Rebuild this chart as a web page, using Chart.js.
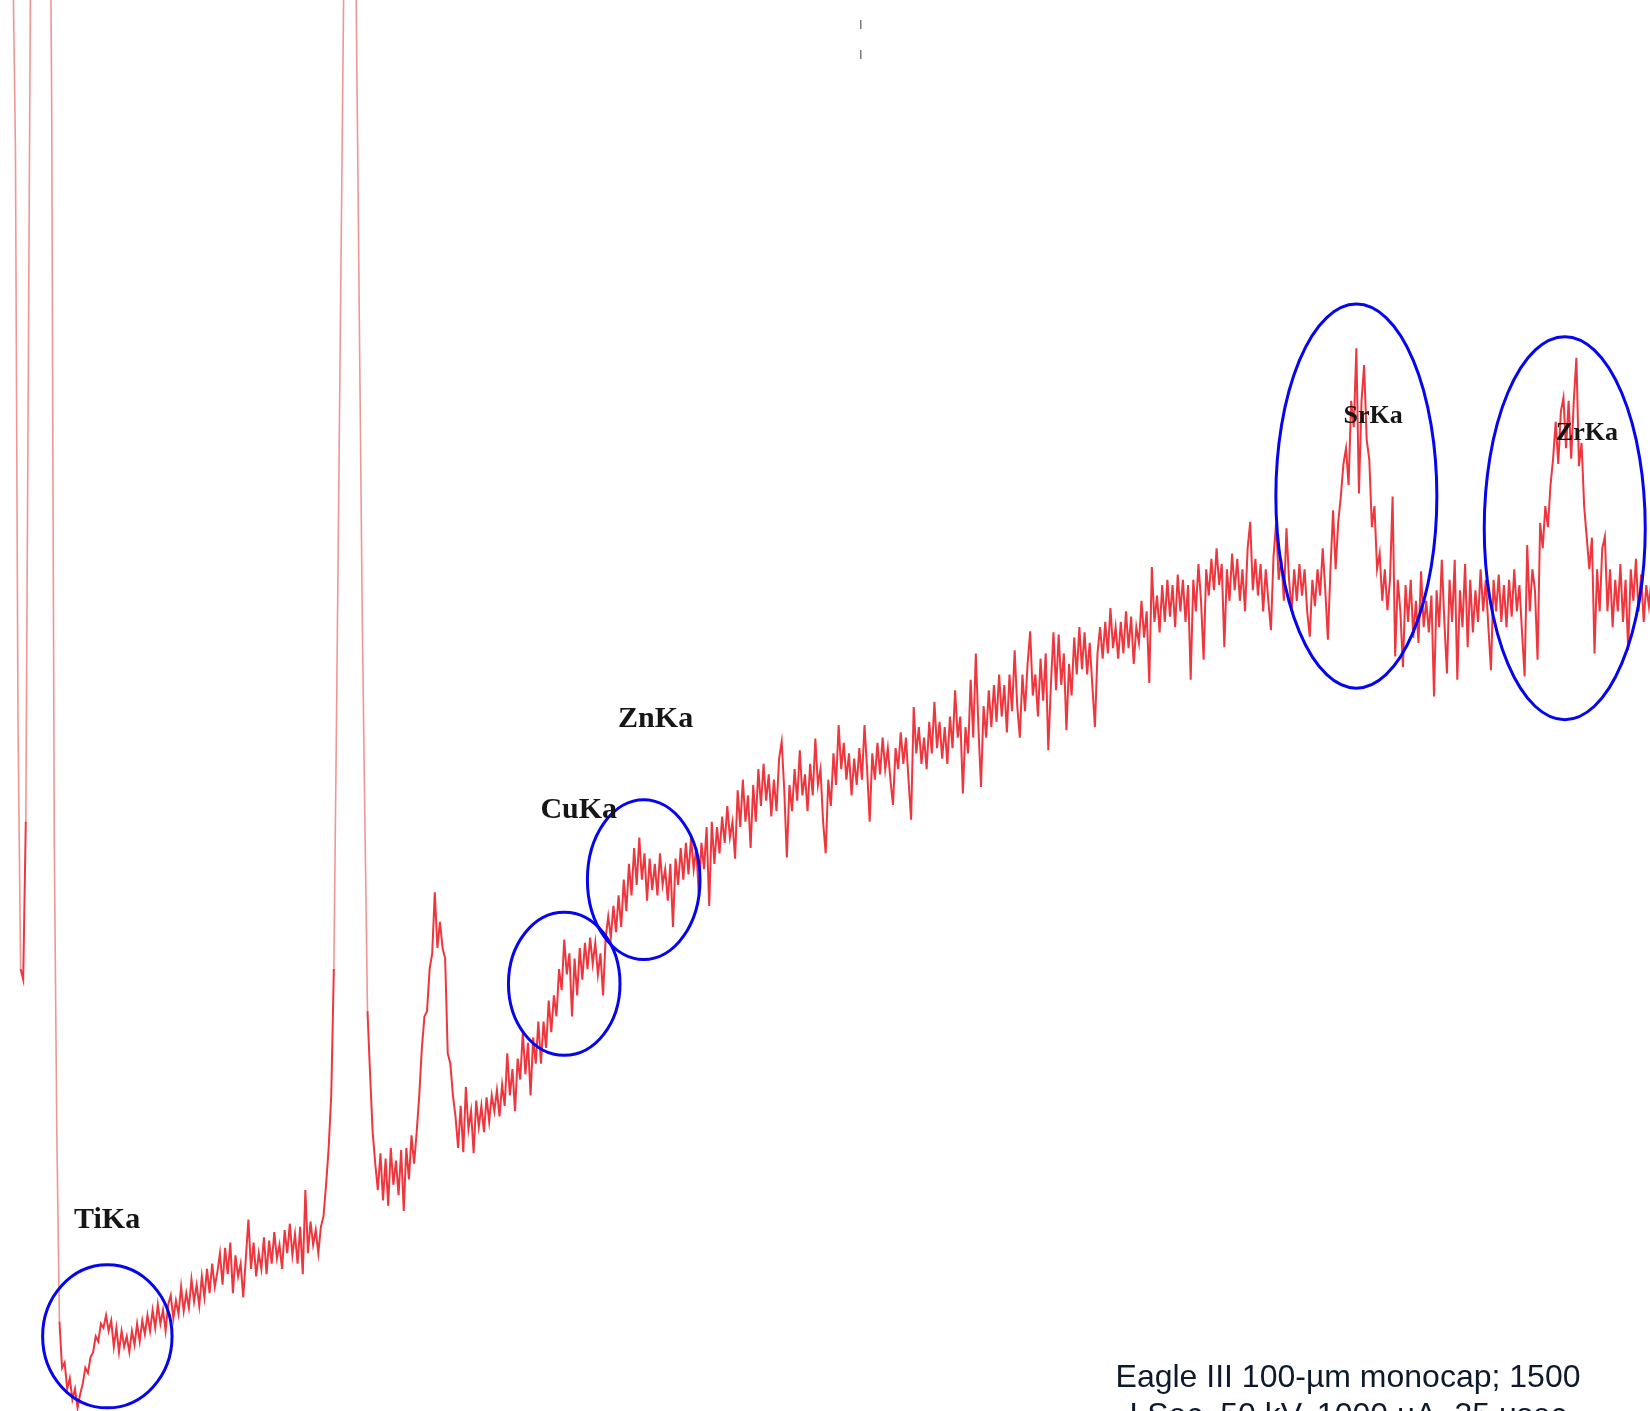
<!DOCTYPE html>
<html>
<head>
<meta charset="utf-8">
<title>XRF spectrum</title>
<script src="https://cdn.jsdelivr.net/npm/chart.js@4.4.1/dist/chart.umd.min.js"></script>
<style>
  html, body { margin: 0; padding: 0; background: #ffffff; }
  #wrap { position: relative; width: 1650px; height: 1411px; overflow: hidden; }
</style>
</head>
<body>
<div id="wrap"><canvas id="spectrum"></canvas></div>
<script>
// Detector calibration: energy of the first channel and channel width (keV)
const energyStart = 3.68;
const channelWidth = 0.02;

// Counts per channel
const counts = [
  1700,1750,1700,1650,1550,1380,1200,650,420,410,560,1000,1450,1800,2000,2100,2100,2000,1800,1600,1241,541,261,
  85,41,46,21,31,11,21,3,16,26,41,36,51,56,71,66,83,79,91,76,86,61,79,56,76,61,71,56,76,63,83,66,86,73,91,76,96,79,101,83,96,76,101,
  110,88,105,92,118,95,112,98,125,104,120,100,128,108,135,112,140,118,132,150,120,155,130,160,112,148,128,140,108,145,
  182,135,160,128,150,135,165,130,162,140,170,145,158,135,172,150,178,148,168,140,175,130,210,150,180,158,172,150,175,
  185,215,250,300,420,650,900,1150,1400,1800,2000,1800,1500,1250,1000,750,560,380,320,265,235,
  210,245,200,240,195,250,215,238,205,248,190,250,220,262,235,265,300,345,375,380,420,435,493,440,465,440,430,340,330,300,280,
  250,290,246,308,268,285,245,295,270,290,265,298,275,300,285,305,280,310,290,340,300,325,285,335,315,360,320,350,300,355,330,370,
  330,370,345,390,360,395,375,420,400,448,415,435,375,430,395,440,410,445,420,450,425,445,415,435,395,450,470,450,480,455,
  490,460,505,475,520,490,535,500,545,505,530,485,525,495,520,490,530,500,515,485,520,460,525,500,535,505,540,510,545,515,
  535,490,540,515,555,480,560,
  520,555,530,565,540,575,545,560,525,590,
  555,600,560,585,535,595,560,610,575,615,
  580,605,565,600,570,620,636,590,526,595,
  570,610,580,628,585,605,570,615,585,639,
  595,610,560,530,600,575,625,595,652,610,
  635,600,625,585,620,595,630,600,652,610,
  560,625,600,635,605,640,610,630,600,576,
  630,610,645,615,640,600,562,669,625,650,
  615,640,610,655,625,674,630,655,620,650,
  615,660,630,685,640,660,587,650,625,695,
  640,
  720,650,593,670,640,685,650,690,655,700,
  660,690,645,700,665,723,670,640,700,665,
  710,741,680,700,660,715,675,720,628,690,
  740,685,738,690,720,647,710,680,735,700,
  745,705,740,700,730,690,650,720,745,715,
  750,720,763,725,745,715,750,720,760,725,
  755,710,745,730,770,735,760,692,802,750,
  775,740,785,750,790,755,785,745,795,760,
  790,750,785,695,790,760,805,770,714,800,
  775,810,780,820,785,805,726,800,770,815,
  780,810,770,800,760,820,845,780,810,775,805,
  760,800,770,742,812,844,790,810,770,839,
  790,760,800,770,805,775,800,760,736,790,
  765,800,775,820,780,733,800,856,800,845,
  869,900,915,880,960,935,1010,872,960,994,
  923,904,840,860,800,815,770,800,761,790,
  869,717,790,760,707,785,750,790,735,770,
  730,798,745,770,740,775,679,780,745,809,
  750,701,790,750,809,695,780,745,805,726,
  790,740,780,750,800,760,790,745,704,790,
  760,795,750,785,745,790,755,800,760,785,
  740,698,823,760,800,780,714,844,820,860,
  840,880,905,940,900,950,963,915,960,905,
  960,1001,898,920,860,830,800,830,720,800,
  760,820,831,760,800,745,790,760,805,750,
  790,723,800,770,810,760,795,750,785,765,790
];

// Short reference tick at the top of the plot (keV, counts)
const markerEnergy = [10.331, 10.331];
const markerCounts = [1322, 1284];

// Element lines that are highlighted
const lineNames = ['TiKa', 'CuKa', 'ZnKa', 'SrKa', 'ZrKa'];
const lineEnergies = [4.51, 8.04, 8.63, 14.16, 15.77];

// Acquisition note
const captionLines = ['Eagle III 100-µm monocap; 1500', 'LSec, 50 kV, 1000 µA, 35 usec'];

// Visible window
const xRange = [3.6807, 16.4287];
const yRange = [0, 1341];

// Highlight ellipses and label placement for each element line (layout)
const highlightLayout = [
  { dx: 0,     cy: 71,    rx: 0.50,  ry: 68,    labelE: 4.508,  labelC: 181, font: 30 },
  { dx: 0,     cy: 406,   rx: 0.431, ry: 68,    labelE: 8.152,  labelC: 571, font: 30 },
  { dx: 0.024, cy: 505,   rx: 0.435, ry: 76,    labelE: 8.746,  labelC: 657, font: 30 },
  { dx: 0,     cy: 869.5, rx: 0.622, ry: 182.5, labelE: 14.29,  labelC: 945, font: 26 },
  { dx: 0,     cy: 839,   rx: 0.622, ry: 182,   labelE: 15.941, labelC: 929, font: 26 }
];

const spectrumPoints = counts.map((c, i) => ({ x: energyStart + i * channelWidth, y: c }));
const markerPoints = markerEnergy.map((e, i) => ({ x: e, y: markerCounts[i] }));

const annotations = {
  id: 'annotations',
  afterDatasetsDraw(chart) {
    const { ctx, scales: { x, y } } = chart;
    ctx.save();
    // ellipses round the element lines
    ctx.strokeStyle = '#0505ee';
    ctx.lineWidth = 3;
    lineEnergies.forEach((e, k) => {
      const h = highlightLayout[k];
      const ce = e + h.dx;
      const cx = x.getPixelForValue(ce);
      const cy = y.getPixelForValue(h.cy);
      const rx = Math.abs(x.getPixelForValue(ce + h.rx) - cx);
      const ry = Math.abs(y.getPixelForValue(h.cy + h.ry) - cy);
      ctx.beginPath();
      ctx.ellipse(cx, cy, rx, ry, 0, 0, Math.PI * 2);
      ctx.stroke();
    });
    // element labels
    ctx.fillStyle = '#161616';
    ctx.textAlign = 'center';
    ctx.textBaseline = 'middle';
    lineNames.forEach((name, k) => {
      const h = highlightLayout[k];
      ctx.font = 'bold ' + h.font + 'px "Liberation Serif", "Times New Roman", serif';
      ctx.fillText(name, x.getPixelForValue(h.labelE), y.getPixelForValue(h.labelC));
    });
    // acquisition note, bottom right
    ctx.fillStyle = '#0e1a2b';
    ctx.font = '32px "Liberation Sans", Arial, sans-serif';
    ctx.textBaseline = 'alphabetic';
    captionLines.forEach((t, k) => {
      ctx.fillText(t, 1348, 1387 + k * 38);
    });
    ctx.restore();
  }
};

new Chart(document.getElementById('spectrum'), {
  type: 'line',
  data: {
    datasets: [
      {
        label: 'Counts',
        data: spectrumPoints,
        borderColor: 'rgba(234,26,34,0.88)',
        borderWidth: 2,
        pointRadius: 0,
        tension: 0,
        segment: {
          borderColor: ctx => {
            const a = ctx.p0.parsed.y, b = ctx.p1.parsed.y;
            return (Math.max(a, b) > 1100 || Math.abs(a - b) > 170) ? 'rgba(232,80,80,0.6)' : undefined;
          },
          borderWidth: ctx => {
            const a = ctx.p0.parsed.y, b = ctx.p1.parsed.y;
            return (Math.max(a, b) > 1100 || Math.abs(a - b) > 170) ? 1.6 : undefined;
          }
        }
      },
      {
        label: 'Marker',
        data: markerPoints,
        borderColor: 'rgba(90,90,90,0.8)',
        borderWidth: 1.5,
        borderDash: [9, 21],
        pointRadius: 0
      }
    ]
  },
  options: {
    responsive: true,
    maintainAspectRatio: false,
    animation: false,
    layout: { padding: 0 },
    plugins: { legend: { display: false }, tooltip: { enabled: false }, title: { display: false } },
    scales: {
      x: { type: 'linear', min: xRange[0], max: xRange[1], display: false },
      y: { type: 'linear', min: yRange[0], max: yRange[1], display: false }
    }
  },
  plugins: [annotations]
});
</script>
</body>
</html>
